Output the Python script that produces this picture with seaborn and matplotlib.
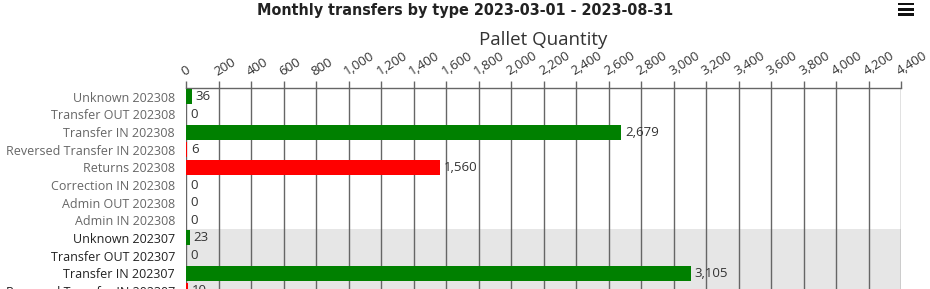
import matplotlib
matplotlib.use("Agg")
import matplotlib.pyplot as plt
import matplotlib.ticker as mticker
from matplotlib.patches import Rectangle
import seaborn as sns
import pandas as pd

categories = [
    "Unknown 202308", "Transfer OUT 202308", "Transfer IN 202308",
    "Reversed Transfer IN 202308", "Returns 202308", "Correction IN 202308",
    "Admin OUT 202308", "Admin IN 202308",
    "Unknown 202307", "Transfer OUT 202307", "Transfer IN 202307",
    "Reversed Transfer IN 202307",
]
values = [36, 0, 2679, 6, 1560, 0, 0, 0, 23, 0, 3105, 10]
bar_colors = ["#008000", "#ff0000", "#008000", "#ff0000", "#ff0000", "#008000",
              "#ff0000", "#008000", "#008000", "#ff0000", "#008000", "#ff0000"]
x_ticks = list(range(0, 4401, 200))
title = "Monthly transfers by type 2023-03-01 - 2023-08-31"
axis_title = "Pallet Quantity"

sns.set_theme(style="white")
plt.rcParams["font.family"] = ["Open Sans", "DejaVu Sans"]

df = pd.DataFrame({"category": categories, "value": values})

W, H = 930, 289
fig = plt.figure(figsize=(W / 100, H / 100), dpi=100)
pitch = 17.64
top_px = 88
n = len(categories)
ax_h_px = n * pitch
ax = fig.add_axes([186 / W, (H - top_px - ax_h_px) / H, 715 / W, ax_h_px / H])

# plot band for second month
ax.axhspan(7.5, n - 0.5, color="#e6e6e6", zorder=0, lw=0)

sns.barplot(data=df, x="value", y="category", hue="category",
            palette=bar_colors, legend=False, orient="h", width=0.85,
            ax=ax, zorder=3, linewidth=0, saturation=1)

ax.set_xlim(0, 4400)
ax.set_ylim(n - 0.5, -0.5)
ax.set_xticks(x_ticks)
ax.xaxis.set_major_formatter(mticker.FuncFormatter(lambda v, p: f"{int(v):,}"))
ax.xaxis.tick_top()
ax.grid(axis="x", color="#666666", lw=1, zorder=1)
ax.set_axisbelow(True)
for s in ["left", "right", "bottom"]:
    ax.spines[s].set_visible(False)
ax.spines["top"].set_color("#666666")
ax.spines["top"].set_linewidth(1)
ax.tick_params(axis="x", which="major", direction="out", length=5, width=1,
               color="#666666", pad=2, labelsize=9.5, labelcolor="#333333",
               top=True, bottom=False, labeltop=True, labelbottom=False)
for lab in ax.get_xticklabels():
    lab.set_rotation(32)
    lab.set_ha("left")
    lab.set_va("bottom")
    lab.set_rotation_mode("anchor")
ax.tick_params(axis="y", length=0, pad=8, labelsize=9)
ax.set_ylabel("")
ax.set_xlabel("")
for i, lab in enumerate(ax.get_yticklabels()):
    lab.set_color("#666666" if i < 8 else "#222222")

# value labels
for i, v in enumerate(values):
    ax.text(v + 25, i, f"{v:,}", va="center", ha="left", fontsize=9.5,
            color="#333333", zorder=5)

fig.text(465 / W, 1 - 11 / H, title, ha="center", va="center", fontsize=11.5,
         fontweight="bold", fontstretch="condensed",
         family=["DejaVu Sans"], color="#222222")
fig.text(543.5 / W, 1 - 40 / H, axis_title, ha="center", va="center",
         fontsize=13.5, color="#333333")

# menu icon
for y in (4, 9.3, 14.6):
    fig.add_artist(Rectangle((898 / W, 1 - (y + 1.3) / H), 16 / W, 2.6 / H,
                             transform=fig.transFigure, color="#111111", lw=0))

fig.savefig("out.png", dpi=100)
